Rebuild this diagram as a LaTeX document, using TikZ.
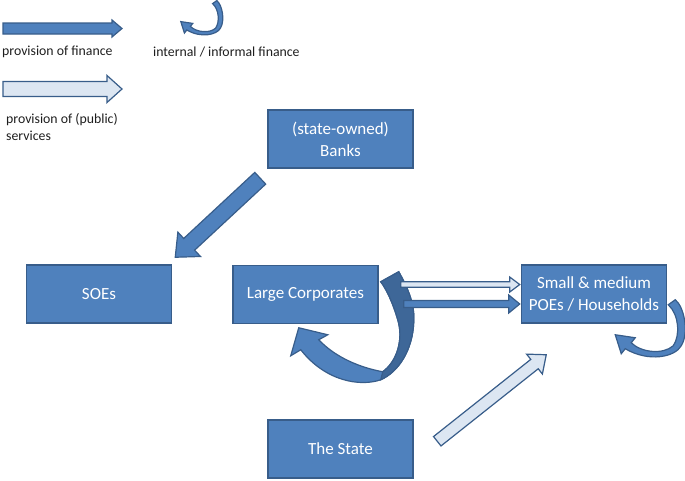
\documentclass[tikz,border=0pt]{standalone}
\usepackage{fontspec}
\setmainfont{Carlito}
\usetikzlibrary{calc}
\definecolor{boxblue}{RGB}{79,129,189}
\definecolor{boxline}{RGB}{56,93,138}
\definecolor{paleblue}{RGB}{220,230,242}
\definecolor{backblue}{RGB}{62,103,152}
\definecolor{textgray}{RGB}{30,30,30}
\tikzset{
  entity/.style={draw=boxline, fill=boxblue, line width=1.5pt, text=white, align=center,
    minimum width=145pt, minimum height=58pt, inner sep=0pt, font=\fontsize{17}{22}\selectfont},
  finance/.style={fill=boxblue, draw=boxline, line width=1.2pt, line join=miter},
  service/.style={fill=paleblue, draw=boxline, line width=1.2pt, line join=miter},
  keytext/.style={anchor=west, align=left, inner sep=0pt, text=textgray,
    font=\fontsize{13.8}{16.5}\selectfont},
  selfloop/.pic={
    \path[finance] (1,-19) -- (8,-24) .. controls (17,-17) and (22,9) .. (14,22)
      .. controls (8,33) and (-18,39) .. (-42,25)
      -- (-46,30) -- (-52,11) -- (-32,14) -- (-36,19)
      .. controls (-26,29) and (-4,31) .. (6,22)
      .. controls (13,12) and (12,-9) .. (1,-19) -- cycle;
  }
}
\newcommand{\blockarrow}[6]{%
  \coordinate (ba-n) at ($(#3)!#6!(#2)$);
  \path[#1] ($(#2)!#4!90:(#3)$) -- ($(ba-n)!#4!90:(#3)$) -- ($(ba-n)!#5!90:(#3)$) -- (#3)
    -- ($(ba-n)!#5!-90:(#3)$) -- ($(ba-n)!#4!-90:(#3)$) -- ($(#2)!#4!-90:(#3)$) -- cycle;
}

\begin{document}
\begin{tikzpicture}[x=1pt, y=-1pt]
  \useasboundingbox (0,0) rectangle (685,480);
  \node[entity] (banks) at (340.5,139) {(state-owned)\\Banks};
  \node[entity] (soes) at (99,294) {SOEs};
  \node[entity] (corporates) at (305.5,294.5) {Large Corporates};
  \node[entity] (households) at (594,294) {Small \& medium\\POEs / Households};
  \node[entity] (state) at (340.5,449) {The State};

  \node[keytext] (key-finance) at (2,52) {provision of finance};
  \node[keytext] (key-internal) at (153,52) {internal / informal finance};
  \node[keytext] (key-services) at (6,127) {provision of (public)\\services};
  \coordinate (kf-a) at (3,28.5);
  \coordinate (kf-b) at (122,28.5);
  \coordinate (ks-a) at (3,89);
  \coordinate (ks-b) at (122,89);
  \blockarrow{finance}{kf-a}{kf-b}{5.5pt}{8.5pt}{10pt}
  \blockarrow{service}{ks-a}{ks-b}{7.5pt}{13.5pt}{15pt}
  \pic[scale=0.6] at (212,15) {selfloop};

  \begin{scope}[shift={(corporates.north east)}]
    \path[finance] (2,17) -- (20,7) .. controls (30,25) and (36,40) .. (35,57)
      .. controls (34,85) and (20,107) .. (2,115)
      .. controls (-18,122) and (-53,117) .. (-78,85)
      -- (-88,91) -- (-80,63) -- (-51,70) -- (-60,75)
      .. controls (-43,93) and (-18,103) .. (4,107)
      .. controls (18,97) and (25,75) .. (19,55)
      .. controls (14,38) and (8,25) .. (2,17) -- cycle;
    \path[finance, fill=backblue] (2,17) -- (20,7) .. controls (30,25) and (36,40) .. (35,57)
      .. controls (34,85) and (20,107) .. (2,115) -- (4,107)
      .. controls (18,97) and (25,75) .. (19,55)
      .. controls (14,38) and (8,25) .. (2,17) -- cycle;
  \end{scope}
  \pic at (households.south east) {selfloop};

  \coordinate (bk-a) at ($(banks.south west)+(-7,9.5)$);
  \coordinate (bk-b) at ($(soes.north east)+(3,-7)$);
  \coordinate (sv-a) at ($(corporates.east)+(22,-10)$);
  \coordinate (sv-b) at ($(households.west)+(-1,-9.5)$);
  \coordinate (fn-a) at ($(corporates.east)+(25,9.5)$);
  \coordinate (fn-b) at ($(households.west)+(-1,10)$);
  \coordinate (st-a) at ($(state.north east)+(23.5,22)$);
  \coordinate (st-b) at ($(households.south west)+(25.5,31)$);
  \blockarrow{finance}{bk-a}{bk-b}{8pt}{16.6pt}{19pt}
  \blockarrow{service}{sv-a}{sv-b}{2.8pt}{7.5pt}{10pt}
  \blockarrow{finance}{fn-a}{fn-b}{3.5pt}{9pt}{11pt}
  \blockarrow{service}{st-a}{st-b}{6pt}{12.7pt}{15pt}
\end{tikzpicture}
\end{document}
